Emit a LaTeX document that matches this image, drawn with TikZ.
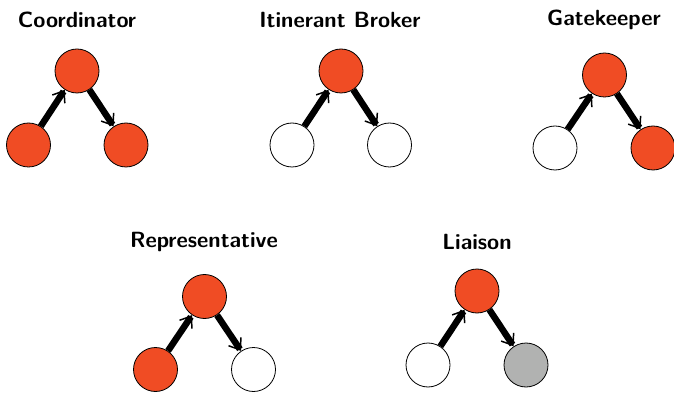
\documentclass[tikz,border=0pt]{standalone}
\usetikzlibrary{arrows.meta}
\definecolor{actor}{RGB}{240,76,36}
\definecolor{other}{RGB}{177,178,177}
\tikzset{
  agent/.style={circle, draw=black, line width=0.8pt, minimum size=44pt, inner sep=0pt},
  red/.style={agent, fill=actor},
  white/.style={agent, fill=white},
  grey/.style={agent, fill=other},
  flow/.style={line width=6.5pt, -{Straight Barb[length=10pt,width=15pt,line width=1.5pt]}},
  title/.style={font=\sffamily\bfseries\fontsize{22}{26}\selectfont, inner sep=0pt}
}
\begin{document}
\begin{tikzpicture}[x=1pt,y=-1pt]
\useasboundingbox (0,0) rectangle (674,395);

% Coordinator
\node[title] (t1) at (77,20) {Coordinator};
\node[red] (c1) at (77,71) {};
\node[red] (l1) at (28.5,145) {};
\node[red] (r1) at (126,145) {};
\draw[flow] (l1) -- (c1);
\draw[flow] (c1) -- (r1);

% Itinerant Broker
\node[title] (t2) at (340,20) {Itinerant Broker};
\node[red] (c2) at (341,71) {};
\node[white] (l2) at (292,145) {};
\node[white] (r2) at (389.5,145) {};
\draw[flow] (l2) -- (c2);
\draw[flow] (c2) -- (r2);

% Gatekeeper
\node[title] (t3) at (604,20) {Gatekeeper};
\node[red] (c3) at (604.5,75) {};
\node[white] (l3) at (555,148) {};
\node[red] (r3) at (653,148) {};
\draw[flow] (l3) -- (c3);
\draw[flow] (c3) -- (r3);

% Representative
\node[title] (t4) at (204,242) {Representative};
\node[red] (c4) at (204.5,296.5) {};
\node[red] (l4) at (155.5,369.5) {};
\node[white] (r4) at (253.5,369.5) {};
\draw[flow] (l4) -- (c4);
\draw[flow] (c4) -- (r4);

% Liaison
\node[title] (t5) at (477,242) {Liaison};
\node[red] (c5) at (477,291) {};
\node[white] (l5) at (428,365) {};
\node[grey] (r5) at (526,365) {};
\draw[flow] (l5) -- (c5);
\draw[flow] (c5) -- (r5);
\end{tikzpicture}
\end{document}
